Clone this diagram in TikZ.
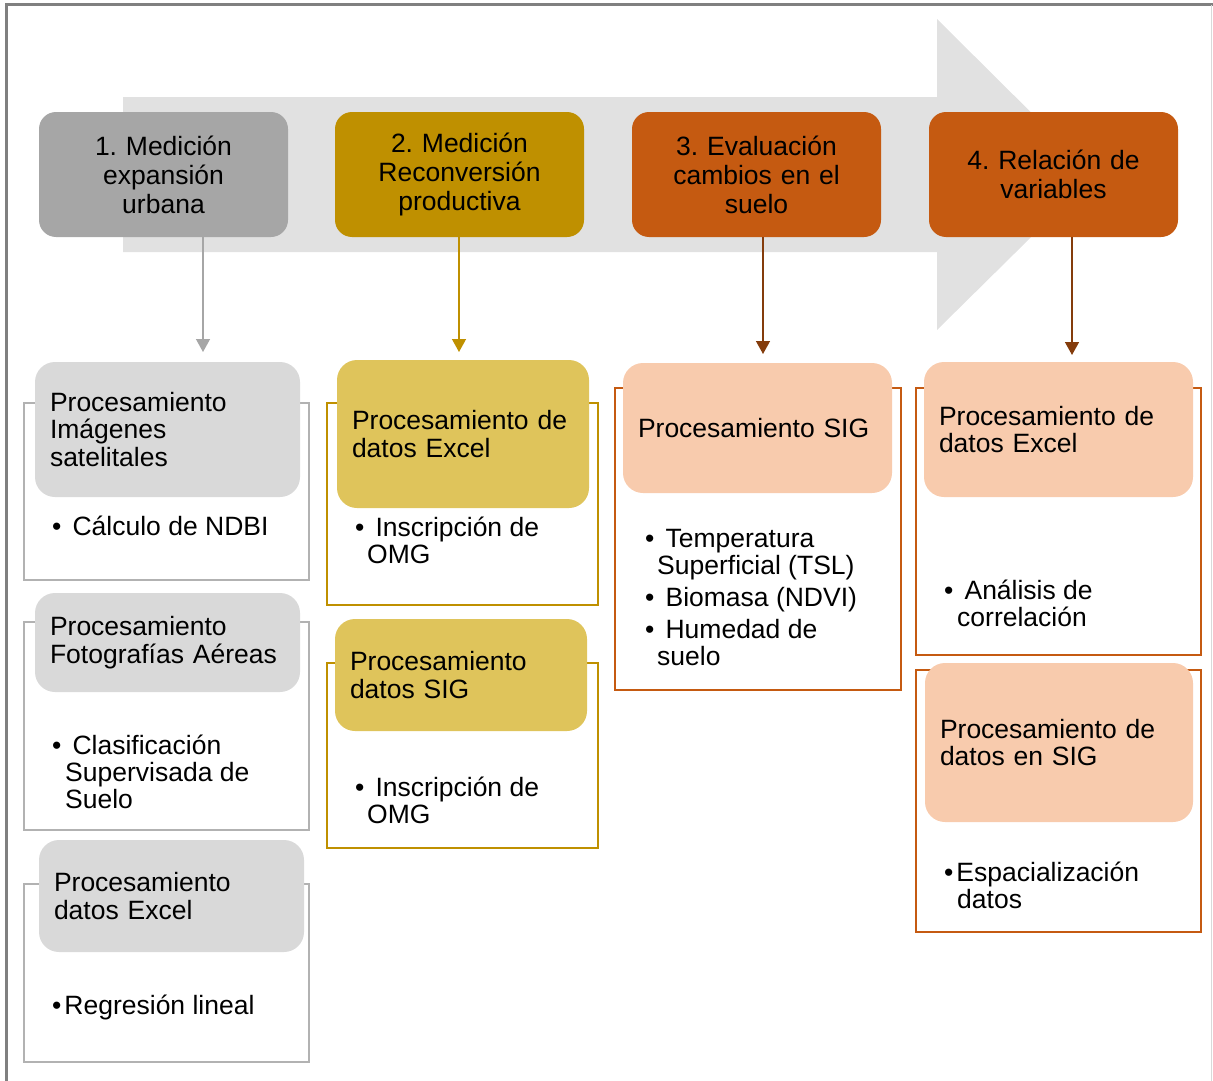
\documentclass[tikz,border=0pt]{standalone}
\usepackage{fontspec}
\setmainfont{Liberation Sans}
\usetikzlibrary{arrows.meta, positioning}
\definecolor{grisfase}{HTML}{A6A6A6}
\definecolor{orofase}{HTML}{BF9000}
\definecolor{naranjafase}{HTML}{C55A11}
\definecolor{grisclaro}{HTML}{D9D9D9}
\definecolor{oroclaro}{HTML}{DFC45B}
\definecolor{durazno}{HTML}{F8CBAD}
\definecolor{grismarco}{HTML}{B2B2B2}
\definecolor{cafeflecha}{HTML}{843C0C}
\definecolor{fondoflecha}{HTML}{E1E1E1}
\newcommand{\vin}{\textbullet\hspace{0.42em}}
\tikzset{%
	fase/.style={
		rounded corners=17pt,
		minimum width=249pt,
		minimum height=125pt,
		text width=235pt,
		align=center,
		inner sep=0pt,
		font=\fontsize{26.5}{29}\selectfont
	},
	proceso/.style={
		rounded corners=20pt,
		inner xsep=15pt,
		inner ysep=0pt,
		align=left,
		font=\fontsize{26.5}{27.5}\selectfont
	},
	vineta/.style={
		anchor=west,
		inner sep=0pt,
		align=left,
		font=\fontsize{26.5}{27}\selectfont
	},
	marco/.style={line width=2.4pt},
	flecha/.style={line width=1.4pt, -{Triangle[width=14pt,length=13pt]}},
}
\frenchspacing
\begin{document}
\begin{tikzpicture}[x=1pt,y=-1pt]
	\useasboundingbox (0,0) rectangle (1213,1081);
	
	% Outer frame
	\draw[line width=3pt, draw=gray] (6,1081) -- (6,5) -- (1213,5);
	\draw[line width=1pt, draw=grisclaro] (1211,5) -- (1211,1081);
	
	% Big background arrow
	\fill[fondoflecha] (123,97) -- (937,97) -- (937,19) -- (1094,175) -- (937,330) -- (937,252) -- (123,252) -- cycle;
	
	% Phases
	\node[fase, fill=grisfase] (f1) at (163.5,174.5) {1. Medición\\expansión\\urbana};
	\node[fase, fill=orofase] (f2) at (459.5,174.5) {2. Medición\\Reconversión\\productiva};
	\node[fase, fill=naranjafase] (f3) at (756.5,174.5) {3. Evaluación\\cambios en el\\suelo};
	\node[fase, fill=naranjafase] (f4) at (1053.5,174.5) {4. Relación de\\variables};
	
	% Arrows down
	\coordinate (t1) at (203,352);
	\coordinate (t2) at (459,352);
	\coordinate (t3) at (763,354);
	\coordinate (t4) at (1072,355);
	\draw[flecha, draw=grisfase, fill=grisfase] (f1.south -| t1) -- (t1);
	\draw[flecha, draw=orofase, fill=orofase] (f2.south -| t2) -- (t2);
	\draw[flecha, draw=cafeflecha, fill=cafeflecha] (f3.south -| t3) -- (t3);
	\draw[flecha, draw=cafeflecha, fill=cafeflecha] (f4.south -| t4) -- (t4);
	
	% Column 1
	\draw[marco, draw=grismarco] (24,403) rectangle (309,580);
	\draw[marco, draw=grismarco] (24,622) rectangle (309,830);
	\draw[marco, draw=grismarco] (24,884) rectangle (309,1062);
	\node[proceso, fill=grisclaro, text width=235pt, minimum height=135pt] (p1a) at (167.5,429.5) {Procesamiento\\Imágenes\\satelitales};
	\node[proceso, fill=grisclaro, text width=235pt, minimum height=99pt] (p1b) at (167.5,642.5) {Procesamiento\\Fotografías Aéreas};
	\node[proceso, fill=grisclaro, text width=235pt, minimum height=112pt] (p1c) at (171.5,896) {Procesamiento\\datos Excel};
	\node[vineta] (v1a) at (52,526) {\vin Cálculo de NDBI};
	\node[vineta] (v1b) at (52,772) {\vin Clasificación\\\hspace*{13pt}Supervisada de\\\hspace*{13pt}Suelo};
	\node[vineta] (v1c) at (52,1007) {\textbullet\hspace{3pt}Regresión lineal};
	
	% Column 2
	\draw[marco, draw=orofase] (327,403) rectangle (598,605);
	\draw[marco, draw=orofase] (327,663) rectangle (598,848);
	\node[proceso, fill=oroclaro, text width=222pt, minimum height=148pt] (p2a) at (463,434) {Procesamiento de\\datos Excel};
	\node[proceso, fill=oroclaro, text width=222pt, minimum height=112pt] (p2b) at (461,675) {Procesamiento\\datos SIG};
	\node[vineta] (v2a) at (355,540) {\vin Inscripción de\\\hspace*{12pt}OMG};
	\node[vineta] (v2b) at (355,800) {\vin Inscripción de\\\hspace*{12pt}OMG};
	
	% Column 3
	\draw[marco, draw=naranjafase] (615,388) rectangle (901,690);
	\node[proceso, fill=durazno, text width=239pt, minimum height=130pt] (p3) at (757.5,428) {Procesamiento SIG};
	\node[vineta] (v3) at (645,597.5) {\vin Temperatura\\\hspace*{12pt}Superficial (TSL)\\[5pt]\vin Biomasa (NDVI)\\[5pt]\vin Humedad de\\\hspace*{12pt}suelo};
	
	% Column 4
	\draw[marco, draw=naranjafase] (916,388) rectangle (1201,655);
	\draw[marco, draw=naranjafase] (916,670) rectangle (1201,932);
	\node[proceso, fill=durazno, text width=239pt, minimum height=135pt] (p4a) at (1058.5,429.5) {Procesamiento de\\datos Excel};
	\node[proceso, fill=durazno, text width=238pt, minimum height=159pt] (p4b) at (1059,742.5) {Procesamiento de\\datos en SIG};
	\node[vineta] (v4a) at (944,603) {\vin Análisis de\\\hspace*{13pt}correlación};
	\node[vineta] (v4b) at (944,885.5) {\textbullet\hspace{3pt}Espacialización\\\hspace*{13pt}datos};
\end{tikzpicture}
\end{document}
